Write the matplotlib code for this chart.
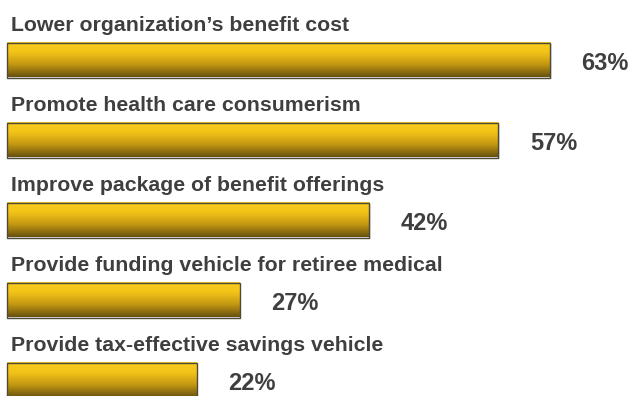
import numpy as np
import matplotlib
matplotlib.use("Agg")
import matplotlib.pyplot as plt
from matplotlib.colors import LinearSegmentedColormap
from matplotlib.patches import Rectangle

# Survey results: reasons for offering the account
categories = [
    "Lower organization\u2019s benefit cost",
    "Promote health care consumerism",
    "Improve package of benefit offerings",
    "Provide funding vehicle for retiree medical",
    "Provide tax-effective savings vehicle",
]
values = [63, 57, 42, 27, 22]
value_labels = ["63%", "57%", "42%", "27%", "22%"]

plt.rcParams["font.family"] = ["Liberation Sans", "DejaVu Sans"]

fig = plt.figure(figsize=(6.29, 3.96), dpi=100)
ax = fig.add_axes([0, 0, 1, 1])

px_per_unit = 8.62
x0_px = 7
row_px = 80.0
first_center_px = 60.0
ax.axis("off")

bar_h = 35 / row_px
gold = LinearSegmentedColormap.from_list(
    "gold", [(0.0, "#F9CD1E"), (0.3, "#F3C219"), (0.65, "#C09512"), (1.0, "#66500F")]
)
grad = np.linspace(0, 1, 256).reshape(-1, 1)

text_color = "#3f3f3f"
ys = np.arange(len(values))

for y, v, cat, lab in zip(ys, values, categories, value_labels):
    top = y - bar_h / 2
    bot = y + bar_h / 2
    # faint shadow along the right edge
    ax.add_patch(Rectangle((0.2, top + 0.02), v, bar_h, facecolor="#e4e4e4",
                           edgecolor="none", zorder=1))
    ax.imshow(grad, cmap=gold, aspect="auto", extent=(0, v, bot, top),
              interpolation="bilinear", zorder=2)
    ax.text(4 / px_per_unit, top - 11.5 / row_px, cat, fontsize=15.3,
            fontweight="bold", color=text_color, va="baseline", ha="left")
    ax.text(v + 31.5 / px_per_unit, y + 3 / row_px, lab, fontsize=17,
            fontweight="bold", color=text_color, va="center", ha="left")

ax.barh(ys, values, height=bar_h, left=0, facecolor="none",
        edgecolor="#4d4a3a", linewidth=1.0, zorder=3)

ax.set_xlim(-x0_px / px_per_unit, (629 - x0_px) / px_per_unit)
ax.set_ylim((396 - first_center_px) / row_px, -first_center_px / row_px)

fig.savefig("out.png", dpi=100, facecolor="white")
